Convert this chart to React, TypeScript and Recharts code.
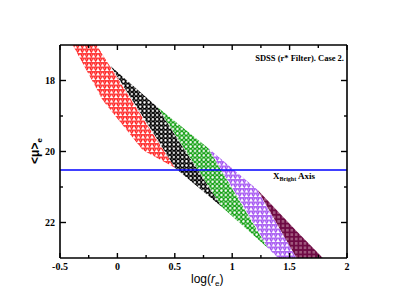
import { Area, ComposedChart, ReferenceLine, XAxis, YAxis } from 'recharts'

const xTicks = [-0.5, -0.25, 0, 0.25, 0.5, 0.75, 1, 1.25, 1.5, 1.75, 2]
const xMajor = [-0.5, 0, 0.5, 1, 1.5, 2]
const yTicks = [18, 19, 20, 21, 22]
const yMajor = [18, 20, 22]

// each band: slices at log(re) with the upper and lower <mu>_e of the filled region
const redX = [-0.39, -0.18, -0.13, 0.22, 0.5]
const redTop = [17.0, 17.0, 17.27, 19.05, 20.46]
const redBottom = [17.0, 18.24, 18.55, 19.96, 20.46]

const blackX = [-0.06, 0.35, 0.5, 0.91]
const blackTop = [17.59, 18.75, 19.53, 21.56]
const blackBottom = [17.59, 19.67, 20.46, 21.56]

const greenX = [0.35, 0.79, 0.91, 1.31]
const greenTop = [18.75, 19.9, 20.56, 22.72]
const greenBottom = [18.75, 20.96, 21.56, 22.72]

const purpleX = [0.79, 1.22, 1.31, 1.4, 1.56]
const purpleTop = [19.9, 21.08, 21.61, 22.09, 23.0]
const purpleBottom = [19.9, 22.2, 22.72, 23.0, 23.0]

const maroonX = [1.22, 1.56, 1.79]
const maroonTop = [21.08, 22.24, 23.0]
const maroonBottom = [21.08, 23.0, 23.0]

const brightAxis = 20.52

const toRows = (xs: number[], top: number[], bottom: number[]) =>
  xs.map((x, i) => ({ x, range: [top[i], bottom[i]] }))

const bands = [
  { name: 'red', rows: toRows(redX, redTop, redBottom) },
  { name: 'black', rows: toRows(blackX, blackTop, blackBottom) },
  { name: 'green', rows: toRows(greenX, greenTop, greenBottom) },
  { name: 'purple', rows: toRows(purpleX, purpleTop, purpleBottom) },
  { name: 'maroon', rows: toRows(maroonX, maroonTop, maroonBottom) },
]

const serif = '"Liberation Serif", "Times New Roman", serif'
const sans = '"Liberation Sans", Arial, sans-serif'

function BottomTick(props: any) {
  const { x, y, payload } = props
  const major = xMajor.includes(payload.value)
  return (
    <g>
      <line x1={x} y1={y} x2={x} y2={y - (major ? 5 : 3)} stroke="#000" strokeWidth={1.4} />
      {major && (
        <text x={x} y={y + 12} textAnchor="middle" fontFamily={serif} fontWeight="bold" fontSize={10} fill="#000">
          {payload.value}
        </text>
      )}
    </g>
  )
}

function TopTick(props: any) {
  const { x, y, payload } = props
  const major = xMajor.includes(payload.value)
  return <line x1={x} y1={y} x2={x} y2={y + (major ? 5 : 3)} stroke="#000" strokeWidth={1.4} />
}

function LeftTick(props: any) {
  const { x, y, payload } = props
  const major = yMajor.includes(payload.value)
  return (
    <g>
      <line x1={x} y1={y} x2={x + (major ? 6 : 3)} y2={y} stroke="#000" strokeWidth={1.4} />
      {major && (
        <text x={x - 5} y={y + 3.5} textAnchor="end" fontFamily={serif} fontWeight="bold" fontSize={10} fill="#000">
          {payload.value}
        </text>
      )}
    </g>
  )
}

function RightTick(props: any) {
  const { x, y, payload } = props
  const major = yMajor.includes(payload.value)
  return <line x1={x} y1={y} x2={x - (major ? 6 : 3)} y2={y} stroke="#000" strokeWidth={1.4} />
}

const axisLine = { stroke: '#000', strokeWidth: 1.6 }

export default function App() {
  return (
    <ComposedChart width={385} height={296} margin={{ top: 36, right: 45, bottom: 45, left: 51 }}>
      <defs>
        <pattern id="pat-red" width="4.5" height="4.5" patternUnits="userSpaceOnUse">
          <path d="M0.5 0.7 L4 0.7 L2.25 3.8 Z" fill="none" stroke="#ff0000" strokeWidth="1.1" />
        </pattern>
        <pattern id="pat-black" width="4.2" height="4.2" patternUnits="userSpaceOnUse">
          <circle cx="2.1" cy="2.1" r="1.8" fill="none" stroke="#000" strokeWidth="1.2" />
        </pattern>
        <pattern id="pat-green" width="4.4" height="4.4" patternUnits="userSpaceOnUse">
          <circle cx="2.2" cy="2.2" r="1.8" fill="none" stroke="#12a012" strokeWidth="1.1" />
        </pattern>
        <pattern id="pat-purple" width="4.5" height="4.5" patternUnits="userSpaceOnUse">
          <path d="M0.5 0.7 L4 0.7 L2.25 3.8 Z" fill="none" stroke="#9538f0" strokeWidth="1.1" />
        </pattern>
        <pattern id="pat-maroon" width="4.4" height="4.4" patternUnits="userSpaceOnUse">
          <rect x="0.4" y="0.4" width="3.6" height="3.6" fill="#a0587e" stroke="#6e0a44" strokeWidth="1" />
        </pattern>
      </defs>

      <XAxis
        xAxisId="bottom"
        dataKey="x"
        type="number"
        domain={[-0.5, 2]}
        ticks={xTicks}
        interval={0}
        allowDataOverflow
        height={1}
        tickSize={0}
        tickMargin={0}
        tickLine={false}
        tick={BottomTick}
        axisLine={axisLine}
      />
      <XAxis
        xAxisId="top"
        orientation="top"
        dataKey="x"
        type="number"
        domain={[-0.5, 2]}
        ticks={xTicks}
        interval={0}
        allowDataOverflow
        height={1}
        tickSize={0}
        tickMargin={0}
        tickLine={false}
        tick={TopTick}
        axisLine={axisLine}
      />
      <YAxis
        yAxisId="left"
        type="number"
        domain={[17, 23]}
        reversed
        ticks={yTicks}
        interval={0}
        allowDataOverflow
        width={1}
        tickSize={0}
        tickMargin={0}
        tickLine={false}
        tick={LeftTick}
        axisLine={axisLine}
      />
      <YAxis
        yAxisId="right"
        orientation="right"
        type="number"
        domain={[17, 23]}
        reversed
        ticks={yTicks}
        interval={0}
        allowDataOverflow
        width={1}
        tickSize={0}
        tickMargin={0}
        tickLine={false}
        tick={RightTick}
        axisLine={axisLine}
      />

      {bands.map((b) => (
        <Area
          key={b.name}
          xAxisId="bottom"
          yAxisId="left"
          data={b.rows}
          dataKey="range"
          type="linear"
          stroke="none"
          fill={`url(#pat-${b.name})`}
          fillOpacity={1}
          dot={false}
          activeDot={false}
          isAnimationActive={false}
        />
      ))}

      <ReferenceLine xAxisId="bottom" yAxisId="left" y={brightAxis} stroke="#0000ff" strokeWidth={1.5} />

      <text x={336} y={53} textAnchor="end" fontFamily={serif} fontWeight="bold" fontSize={8.5} fill="#000">
        SDSS (r* Filter). Case 2.
      </text>
      <text x={265} y={171} fontFamily={serif} fontWeight="bold" fontSize={9} fill="#000">
        X<tspan fontSize={6} dy={2}>Bright</tspan>
        <tspan dy={-2}> Axis</tspan>
      </text>
      <text x={183} y={275} fontFamily={sans} fontSize={12} fill="#000">
        log(<tspan fontStyle="italic">r</tspan>
        <tspan fontSize={8} dy={3}>e</tspan>
        <tspan dy={-3}>)</tspan>
      </text>
      <text
        x={31}
        y={143}
        transform="rotate(-90 31 143)"
        textAnchor="middle"
        fontFamily={sans}
        fontWeight="bold"
        fontSize={12}
        fill="#000"
      >
        &lt;μ&gt;<tspan fontSize={8} dy={3}>e</tspan>
      </text>
    </ComposedChart>
  )
}
